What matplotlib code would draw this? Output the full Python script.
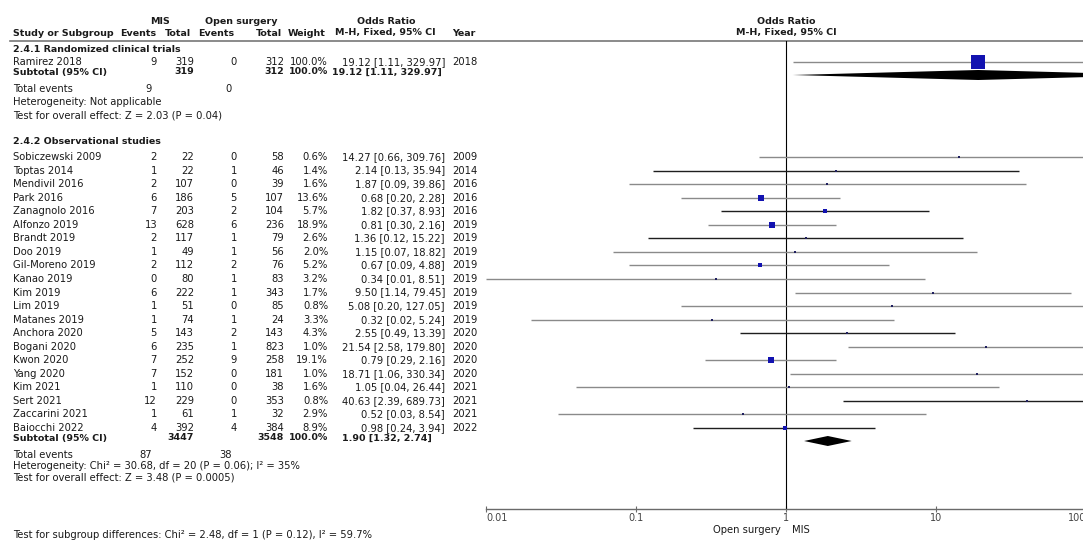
import matplotlib.pyplot as plt
from matplotlib.ticker import NullLocator

plt.rcParams['font.family'] = ['DejaVu Sans']
plt.rcParams['font.size'] = 7.2

# 2.4.1 Randomized clinical trials
rct_names = ["Ramirez 2018"]
rct_mis_events = [9]
rct_mis_total = [319]
rct_open_events = [0]
rct_open_total = [312]
rct_weight = [100.0]
rct_or = [19.12]
rct_lo = [1.11]
rct_hi = [329.97]
rct_year = [2018]
rct_subtotal = (19.12, 1.11, 329.97)
rct_totals = (319, 312, 9, 0)
rct_het = "Heterogeneity: Not applicable"
rct_test = "Test for overall effect: Z = 2.03 (P = 0.04)"

# 2.4.2 Observational studies
obs_names = ["Sobiczewski 2009", "Toptas 2014", "Mendivil 2016", "Park 2016", "Zanagnolo 2016",
             "Alfonzo 2019", "Brandt 2019", "Doo 2019", "Gil-Moreno 2019", "Kanao 2019",
             "Kim 2019", "Lim 2019", "Matanes 2019", "Anchora 2020", "Bogani 2020",
             "Kwon 2020", "Yang 2020", "Kim 2021", "Sert 2021", "Zaccarini 2021", "Baiocchi 2022"]
obs_mis_events = [2, 1, 2, 6, 7, 13, 2, 1, 2, 0, 6, 1, 1, 5, 6, 7, 7, 1, 12, 1, 4]
obs_mis_total = [22, 22, 107, 186, 203, 628, 117, 49, 112, 80, 222, 51, 74, 143, 235, 252, 152, 110, 229, 61, 392]
obs_open_events = [0, 1, 0, 5, 2, 6, 1, 1, 2, 1, 1, 0, 1, 2, 1, 9, 0, 0, 0, 1, 4]
obs_open_total = [58, 46, 39, 107, 104, 236, 79, 56, 76, 83, 343, 85, 24, 143, 823, 258, 181, 38, 353, 32, 384]
obs_weight = [0.6, 1.4, 1.6, 13.6, 5.7, 18.9, 2.6, 2.0, 5.2, 3.2, 1.7, 0.8, 3.3, 4.3, 1.0, 19.1, 1.0, 1.6, 0.8, 2.9, 8.9]
obs_or = [14.27, 2.14, 1.87, 0.68, 1.82, 0.81, 1.36, 1.15, 0.67, 0.34, 9.50, 5.08, 0.32, 2.55, 21.54,
          0.79, 18.71, 1.05, 40.63, 0.52, 0.98]
obs_lo = [0.66, 0.13, 0.09, 0.20, 0.37, 0.30, 0.12, 0.07, 0.09, 0.01, 1.14, 0.20, 0.02, 0.49, 2.58,
          0.29, 1.06, 0.04, 2.39, 0.03, 0.24]
obs_hi = [309.76, 35.94, 39.86, 2.28, 8.93, 2.16, 15.22, 18.82, 4.88, 8.51, 79.45, 127.05, 5.24, 13.39,
          179.80, 2.16, 330.34, 26.44, 689.73, 8.54, 3.94]
obs_year = [2009, 2014, 2016, 2016, 2016, 2019, 2019, 2019, 2019, 2019, 2019, 2019, 2019, 2020, 2020,
            2020, 2020, 2021, 2021, 2021, 2022]
obs_subtotal = (1.90, 1.32, 2.74)
obs_totals = (3447, 3548, 87, 38)
obs_het = "Heterogeneity: Chi\u00b2 = 30.68, df = 20 (P = 0.06); I\u00b2 = 35%"
obs_test = "Test for overall effect: Z = 3.48 (P = 0.0005)"

subgroup_test = "Test for subgroup differences: Chi\u00b2 = 2.48, df = 1 (P = 0.12), I\u00b2 = 59.7%"
x_ticks = [0.01, 0.1, 1, 10, 100]
x_tick_labels = ["0.01", "0.1", "1", "10", "100"]
dark_lines = {"Toptas 2014", "Zanagnolo 2016", "Brandt 2019", "Anchora 2020", "Sert 2021", "Baiocchi 2022"}

W, H = 1083, 542
TXT = '#1a1a1a'
BOLD_SIZE = 6.8
fig = plt.figure(figsize=(W / 100, H / 100), dpi=100)
ax = fig.add_axes([0, 0, 1, 1])
ax.set_xlim(0, W)
ax.set_ylim(H, 0)
ax.axis('off')

# forest panel: 0.01 sits at x=486 px, 150 px per decade
RULE_Y, AXIS_Y = 40.5, 509
axc = fig.add_axes([486 / W, 1 - AXIS_Y / H, 600 / W, (AXIS_Y - RULE_Y) / H])
axc.set_xscale('log')
axc.set_xlim(0.01, 100)
axc.set_ylim(AXIS_Y, RULE_Y)
axc.patch.set_visible(False)
for s in ['top', 'left', 'right']:
    axc.spines[s].set_visible(False)
axc.spines['bottom'].set_color('#6a6a6a')
axc.spines['bottom'].set_linewidth(1.0)
axc.set_yticks([])
axc.set_xticks(x_ticks)
axc.set_xticklabels(x_tick_labels)
axc.xaxis.set_minor_locator(NullLocator())
axc.tick_params(axis='x', direction='inout', length=5, width=0.8, colors='#6a6a6a',
                labelcolor='#444', labelsize=7, pad=0.5)
tl = axc.get_xticklabels()
tl[0].set_ha('left')
tl[-1].set_ha('right')
axc.axvline(1, color='black', lw=0.8)

# column x positions (px)
C_NAME, C_ME, C_MT, C_OE, C_OT, C_W, C_CI, C_YR, C_SUBCI = 13, 157, 194, 237, 284, 328, 445, 452, 387


def t(x, y, s, ha='left', bold=False, **kw):
    if bold:
        kw.setdefault('fontsize', BOLD_SIZE)
    ax.text(x, y, s, ha=ha, va='center', color=TXT, fontweight='bold' if bold else 'normal', **kw)


# headers
t(160, 21, "MIS", 'center', True)
t(241, 21, "Open surgery", 'center', True)
t(386, 21, "Odds Ratio", 'center', True)
t(786, 21, "Odds Ratio", 'center', True)
t(C_NAME, 33, "Study or Subgroup", bold=True)
t(156, 33, "Events", 'right', True)
t(191, 33, "Total", 'right', True)
t(234, 33, "Events", 'right', True)
t(282, 33, "Total", 'right', True)
t(326, 33, "Weight", 'right', True)
t(385, 33, "M-H, Fixed, 95% CI", 'center', True)
t(452, 33, "Year", bold=True)
t(786, 33, "M-H, Fixed, 95% CI", 'center', True)
ax.plot([10, W], [RULE_Y, RULE_Y], color='#777', lw=1.2)


def group(title, y0, names, me, mt, oe, ot, wt, est, lo, hi, yr, sub, totals, het, test,
          y_first, step, y_sub, y_foot):
    t(C_NAME, y0, title, bold=True)
    for i, n in enumerate(names):
        y = y_first + i * step
        t(C_NAME, y, n)
        t(C_ME, y, str(me[i]), 'right')
        t(C_MT, y, str(mt[i]), 'right')
        t(C_OE, y, str(oe[i]), 'right')
        t(C_OT, y, str(ot[i]), 'right')
        t(C_W, y, f"{wt[i]:.1f}%", 'right')
        t(C_CI, y, f"{est[i]:.2f} [{lo[i]:.2f}, {hi[i]:.2f}]", 'right')
        t(C_YR, y, str(yr[i]))
        col = '#1e1e1e' if n in dark_lines else '#8a8a8a'
        axc.plot([lo[i], hi[i]], [y, y], color=col, lw=1.0, solid_capstyle='butt')
        side = max(14 * (wt[i] / 100) ** 0.5, 2.0)
        axc.plot([est[i]], [y], marker='s', ms=side * 0.72, mew=0,
                 color='#1212b0' if wt[i] > 5 else '#202060')
    t(C_NAME, y_sub, "Subtotal (95% CI)", bold=True)
    t(C_MT, y_sub, str(totals[0]), 'right', True)
    t(C_OT, y_sub, str(totals[1]), 'right', True)
    t(C_W, y_sub, "100.0%", 'right', True)
    t(C_SUBCI, y_sub, f"{sub[0]:.2f} [{sub[1]:.2f}, {sub[2]:.2f}]", 'center', True)
    yd = y_sub + 3
    axc.fill([sub[1], sub[0], sub[2], sub[0]], [yd, yd - 5, yd, yd + 5], color='black', lw=0)
    t(C_NAME, y_foot[0], "Total events")
    t(C_ME - 5, y_foot[0], str(totals[2]), 'right')
    t(C_OE - 5, y_foot[0], str(totals[3]), 'right')
    t(C_NAME, y_foot[1], het)
    t(C_NAME, y_foot[2], test)


STEP = 13.55
group("2.4.1 Randomized clinical trials", 50, rct_names, rct_mis_events, rct_mis_total, rct_open_events,
      rct_open_total, rct_weight, rct_or, rct_lo, rct_hi, rct_year, rct_subtotal, rct_totals,
      rct_het, rct_test, 62, STEP, 72, (89, 102, 115))
group("2.4.2 Observational studies", 142, obs_names, obs_mis_events, obs_mis_total, obs_open_events,
      obs_open_total, obs_weight, obs_or, obs_lo, obs_hi, obs_year, obs_subtotal, obs_totals,
      obs_het, obs_test, 157, STEP, 438, (455, 466, 477))

t(781, 530, "Open surgery", 'right')
t(792, 530, "MIS")
t(C_NAME, 535, subgroup_test)

fig.savefig('out.png', dpi=100)
